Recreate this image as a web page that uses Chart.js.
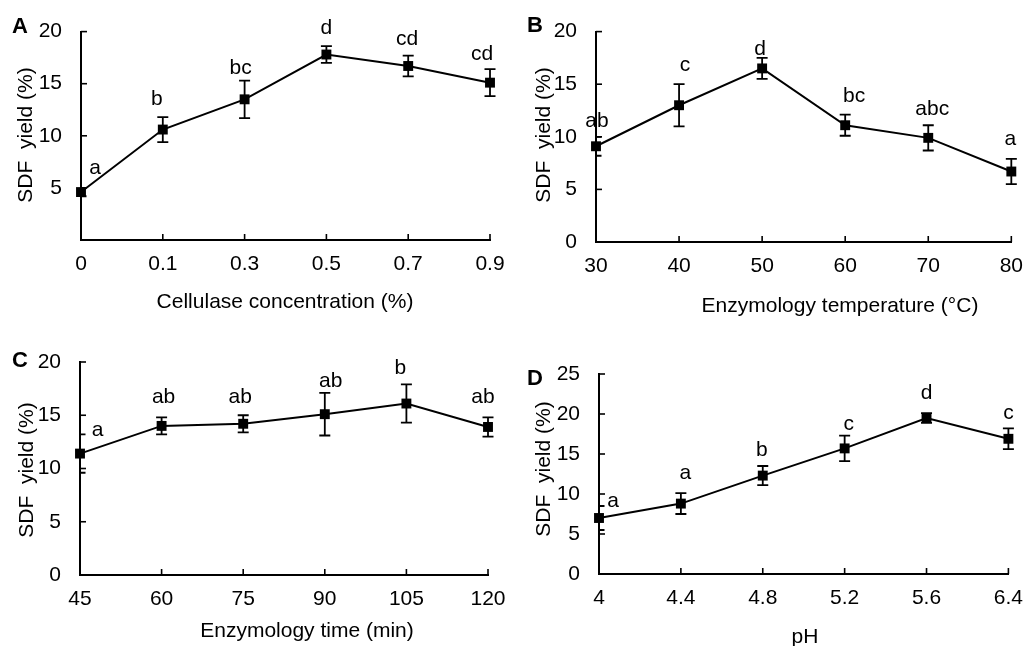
<!DOCTYPE html>
<html><head><meta charset="utf-8">
<script src="https://cdn.jsdelivr.net/npm/chart.js@4.4.0/dist/chart.umd.min.js"></script>
<style>
html,body{margin:0;padding:0;background:#fff;}
#wrap{position:relative;width:1035px;height:646px;overflow:hidden;background:#fff;}
canvas{position:absolute;left:0;top:0;}
</style></head><body>
<div id="wrap">
<canvas id="cA" width="1035" height="646"></canvas>
<canvas id="cB" width="1035" height="646"></canvas>
<canvas id="cC" width="1035" height="646"></canvas>
<canvas id="cD" width="1035" height="646"></canvas>
</div>
<script>
// ---- data ----
const catsA = ['0','0.1','0.3','0.5','0.7','0.9'];
const valsA = [4.6, 10.6, 13.5, 17.8, 16.7, 15.1];
const errA  = [0.4, 1.2, 1.8, 0.8, 1.0, 1.3];
const lettersA = ['a','b','bc','d','cd','cd'];

const catsB = ['30','40','50','60','70','80'];
const valsB = [9.1, 13.0, 16.5, 11.1, 9.9, 6.7];
const errB  = [0.9, 2.0, 1.0, 1.0, 1.2, 1.2];
const lettersB = ['ab','c','d','bc','abc','a'];

const catsC = ['45','60','75','90','105','120'];
const valsC = [11.4, 14.0, 14.2, 15.1, 16.1, 13.9];
const errC  = [1.8, 0.8, 0.8, 2.0, 1.8, 0.9];
const lettersC = ['a','ab','ab','ab','b','ab'];

const catsD = ['4','4.4','4.8','5.2','5.6','6.4'];
const valsD = [7.0, 8.8, 12.3, 15.7, 19.5, 16.9];
const errD  = [1.5, 1.3, 1.2, 1.6, 0.6, 1.3];
const lettersD = ['a','a','b','c','d','c'];

const yTitle = 'SDF  yield (%)';
const xTitleA = 'Cellulase concentration (%)';
const xTitleB = 'Enzymology temperature (\u00B0C)';
const xTitleC = 'Enzymology time (min)';
const xTitleD = 'pH';
const yMaxA = 20, yMaxB = 20, yMaxC = 20, yMaxD = 25;

// ---- style / layout ----
const FONT = '"Liberation Sans", Arial, Helvetica, sans-serif';
const FS = 21;
const W = 1035, H = 646, XAXIS_H = 40;

const panels = [
  {canvas:'cA', tag:'A', cats:catsA, vals:valsA, err:errA, letters:lettersA, yMax:yMaxA, hideZero:true,
   xTitle:xTitleA, area:{l:81, r:490, t:30, b:240},
   tagPos:[12,33], xTitlePos:[285,308], yTitlePos:[32,135],
   letterOff:[[14,13.5],[-6,11.7],[-4,6.6],[0,11.7],[-1,10.7],[-8,8.7]]},
  {canvas:'cB', tag:'B', cats:catsB, vals:valsB, err:errB, letters:lettersB, yMax:yMaxB, hideZero:false,
   xTitle:xTitleB, area:{l:596, r:1024, t:28, b:242},
   tagPos:[527,32], xTitlePos:[840,312], yTitlePos:[550,135],
   letterOff:[[1,10],[6,13],[-2,3],[9,12.5],[4,10],[-1,13.5]]},
  {canvas:'cC', tag:'C', cats:catsC, vals:valsC, err:errC, letters:lettersC, yMax:yMaxC, hideZero:false,
   xTitle:xTitleC, area:{l:80, r:488, t:362, b:575},
   tagPos:[12,367], xTitlePos:[307,637], yTitlePos:[33,470],
   letterOff:[[17.5,-1.5],[2,14.4],[-3,12.3],[6,5.8],[-6,10.7],[-5,14.4]]},
  {canvas:'cD', tag:'D', cats:catsD, vals:valsD, err:errD, letters:lettersD, yMax:yMaxD, hideZero:false,
   xTitle:xTitleD, area:{l:599, r:1017, t:374, b:574},
   tagPos:[527,385], xTitlePos:[805,643], yTitlePos:[550,469],
   letterOff:[[14,-1],[4.5,14],[-1,9.6],[4,6],[0,14.5],[0,9.7]]}
];

function makeDecor(p) {
  return {
    id: 'decor' + p.tag,
    beforeDatasetsDraw(chart) {
      const ctx = chart.ctx, xs = chart.scales.x, ys = chart.scales.y;
      const ca = chart.chartArea;
      ctx.save();
      ctx.strokeStyle = '#000';
      // error bars, clipped to the plot area (left of the y axis is hidden)
      ctx.save();
      ctx.beginPath();
      ctx.rect(ca.left - 1, 0, W, H);
      ctx.clip();
      ctx.lineWidth = 1.8;
      const cap = 5.5;
      p.vals.forEach((v, i) => {
        const x = xs.getPixelForValue(i);
        const y1 = ys.getPixelForValue(v + p.err[i]);
        const y2 = ys.getPixelForValue(v - p.err[i]);
        ctx.beginPath();
        ctx.moveTo(x, y1); ctx.lineTo(x, y2);
        ctx.moveTo(x - cap, y1); ctx.lineTo(x + cap, y1);
        ctx.moveTo(x - cap, y2); ctx.lineTo(x + cap, y2);
        ctx.stroke();
      });
      ctx.restore();
      // inward tick marks
      ctx.lineWidth = 1.6;
      ys.ticks.forEach(t => {
        const y = ys.getPixelForValue(t.value);
        ctx.beginPath(); ctx.moveTo(ca.left, y); ctx.lineTo(ca.left + 6, y); ctx.stroke();
      });
      p.cats.forEach((c, i) => {
        const x = xs.getPixelForValue(i);
        ctx.beginPath(); ctx.moveTo(x, ca.bottom); ctx.lineTo(x, ca.bottom - 6); ctx.stroke();
      });
      ctx.restore();
    },
    afterDraw(chart) {
      const ctx = chart.ctx, xs = chart.scales.x, ys = chart.scales.y;
      ctx.save();
      ctx.fillStyle = '#000';
      ctx.font = FS + 'px ' + FONT;
      ctx.textBaseline = 'alphabetic';
      ctx.textAlign = 'center';
      // significance letters
      p.letters.forEach((s, i) => {
        const x = xs.getPixelForValue(i) + p.letterOff[i][0];
        const y = ys.getPixelForValue(p.vals[i] + p.err[i]) - p.letterOff[i][1];
        ctx.fillText(s, x, y);
      });
      // x title
      ctx.fillText(p.xTitle, p.xTitlePos[0], p.xTitlePos[1]);
      // y title
      ctx.save();
      ctx.translate(p.yTitlePos[0], p.yTitlePos[1]);
      ctx.rotate(-Math.PI / 2);
      ctx.fillText(yTitle, 0, 0);
      ctx.restore();
      // panel tag
      ctx.font = 'bold 22px ' + FONT;
      ctx.textAlign = 'left';
      ctx.fillText(p.tag, p.tagPos[0], p.tagPos[1]);
      ctx.restore();
    }
  };
}

panels.forEach(p => {
  const a = p.area;
  new Chart(document.getElementById(p.canvas), {
    type: 'line',
    data: {
      labels: p.cats,
      datasets: [{
        data: p.vals,
        borderColor: '#000',
        borderWidth: 2,
        backgroundColor: '#000',
        pointStyle: 'rect',
        pointRadius: 7,
        pointHoverRadius: 7,
        pointBackgroundColor: '#000',
        pointBorderWidth: 0,
        tension: 0,
        fill: false,
        clip: false
      }]
    },
    options: {
      responsive: false,
      animation: false,
      devicePixelRatio: 1,
      events: [],
      layout: { padding: { left: 0, top: a.t, right: W - a.r, bottom: H - a.b - XAXIS_H } },
      plugins: { legend: { display: false }, tooltip: { enabled: false }, title: { display: false } },
      scales: {
        x: {
          type: 'category',
          offset: false,
          grid: { display: false, drawTicks: false },
          border: { display: true, color: '#000', width: 2 },
          ticks: { color: '#000', font: { family: FONT, size: FS }, padding: 12, maxRotation: 0, autoSkip: false },
          afterFit(s) { s.height = XAXIS_H; }
        },
        y: {
          min: 0, max: p.yMax,
          grid: { display: false, drawTicks: false },
          border: { display: true, color: '#000', width: 2 },
          ticks: {
            stepSize: 5, color: '#000', font: { family: FONT, size: FS }, padding: 19,
            callback: (v) => (p.hideZero && v === 0) ? '' : String(v)
          },
          afterFit(s) { s.width = a.l; }
        }
      }
    },
    plugins: [makeDecor(p)]
  });
});
</script>
</body></html>
